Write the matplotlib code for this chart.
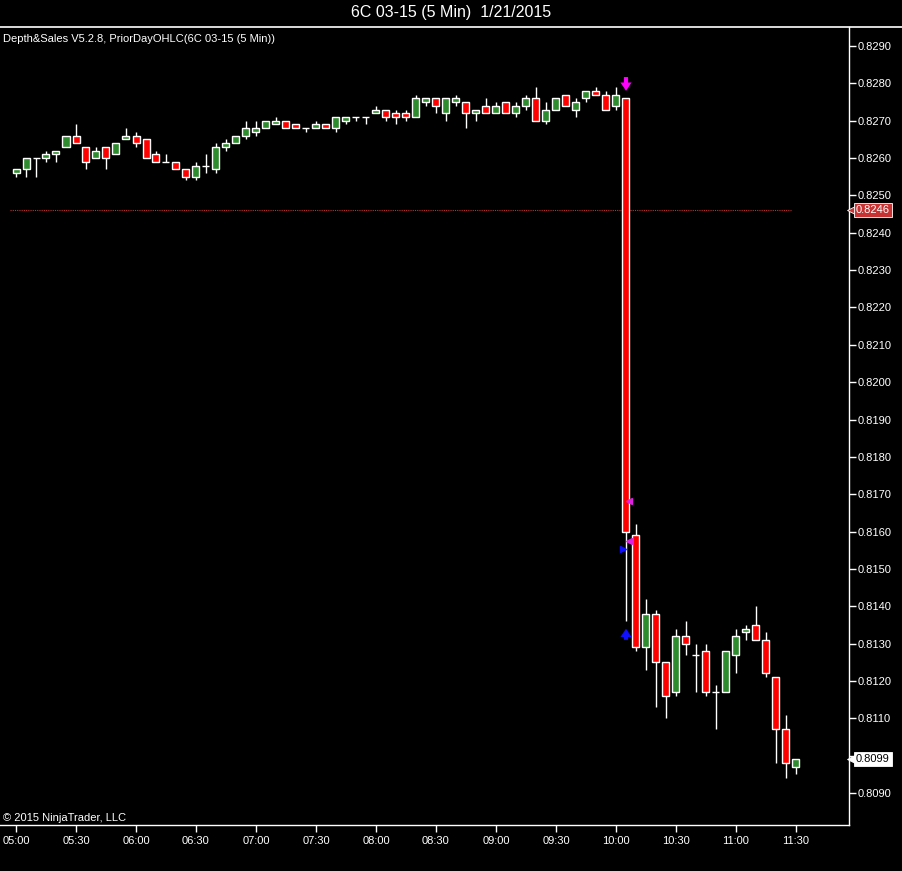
import numpy as np
import matplotlib
matplotlib.use("Agg")
import matplotlib.pyplot as plt
from matplotlib.lines import Line2D
import matplotlib.transforms as mtransforms

plt.rcParams['font.family'] = ['Liberation Sans', 'DejaVu Sans']

# 5 minute bars, 6C 03-15, 05:00 .. 11:30
opens = [0.8256, 0.8257, 0.8260, 0.8260, 0.8261, 0.8263, 0.8266, 0.8263, 0.8260, 0.8263,
         0.8261, 0.8265, 0.8266, 0.8265, 0.8261, 0.8259, 0.8259, 0.8257, 0.8255, 0.8258,
         0.8257, 0.8263, 0.8264, 0.8266, 0.8267, 0.8268, 0.8269, 0.8270, 0.8269, 0.8268,
         0.8268, 0.8269, 0.8268, 0.8270, 0.8271, 0.8271, 0.8272, 0.8273, 0.8272, 0.8272,
         0.8271, 0.8275, 0.8276, 0.8272, 0.8275, 0.8275, 0.8272, 0.8274, 0.8272, 0.8275,
         0.8272, 0.8274, 0.8276, 0.8270, 0.8273, 0.8277, 0.8273, 0.8276, 0.8278, 0.8277,
         0.8274, 0.8276, 0.8159, 0.8129, 0.8138, 0.8125, 0.8117, 0.8132, 0.8127, 0.8128,
         0.8117, 0.8117, 0.8127, 0.8133, 0.8135, 0.8131, 0.8121, 0.8107, 0.8097]
highs = [0.8257, 0.8260, 0.8260, 0.8262, 0.8262, 0.8266, 0.8269, 0.8263, 0.8263, 0.8263,
         0.8264, 0.8268, 0.8267, 0.8265, 0.8262, 0.8261, 0.8259, 0.8257, 0.8259, 0.8261,
         0.8264, 0.8265, 0.8266, 0.8270, 0.8270, 0.8270, 0.8271, 0.8270, 0.8269, 0.8268,
         0.8270, 0.8269, 0.8271, 0.8271, 0.8271, 0.8271, 0.8274, 0.8273, 0.8273, 0.8273,
         0.8277, 0.8276, 0.8276, 0.8276, 0.8277, 0.8275, 0.8273, 0.8276, 0.8275, 0.8275,
         0.8275, 0.8277, 0.8279, 0.8275, 0.8276, 0.8277, 0.8276, 0.8278, 0.8279, 0.8278,
         0.8279, 0.8276, 0.8162, 0.8142, 0.8139, 0.8125, 0.8134, 0.8136, 0.8130, 0.8130,
         0.8119, 0.8128, 0.8134, 0.8135, 0.8140, 0.8133, 0.8121, 0.8111, 0.8099]
lows = [0.8255, 0.8255, 0.8255, 0.8259, 0.8259, 0.8263, 0.8264, 0.8257, 0.8260, 0.8257,
        0.8261, 0.8265, 0.8263, 0.8260, 0.8259, 0.8259, 0.8257, 0.8254, 0.8254, 0.8256,
        0.8256, 0.8262, 0.8264, 0.8265, 0.8266, 0.8268, 0.8269, 0.8268, 0.8268, 0.8267,
        0.8268, 0.8268, 0.8267, 0.8269, 0.8270, 0.8269, 0.8272, 0.8270, 0.8269, 0.8270,
        0.8271, 0.8274, 0.8272, 0.8270, 0.8274, 0.8268, 0.8270, 0.8272, 0.8272, 0.8272,
        0.8271, 0.8273, 0.8270, 0.8269, 0.8273, 0.8274, 0.8271, 0.8275, 0.8277, 0.8273,
        0.8273, 0.8136, 0.8128, 0.8123, 0.8113, 0.8110, 0.8116, 0.8127, 0.8117, 0.8116,
        0.8107, 0.8117, 0.8122, 0.8131, 0.8131, 0.8121, 0.8098, 0.8094, 0.8095]
closes = [0.8257, 0.8260, 0.8260, 0.8261, 0.8262, 0.8266, 0.8264, 0.8259, 0.8262, 0.8260,
          0.8264, 0.8266, 0.8264, 0.8260, 0.8259, 0.8259, 0.8257, 0.8255, 0.8258, 0.8258,
          0.8263, 0.8264, 0.8266, 0.8268, 0.8268, 0.8270, 0.8270, 0.8268, 0.8268, 0.8268,
          0.8269, 0.8268, 0.8271, 0.8271, 0.8271, 0.8271, 0.8273, 0.8271, 0.8271, 0.8271,
          0.8276, 0.8276, 0.8274, 0.8276, 0.8276, 0.8272, 0.8273, 0.8272, 0.8274, 0.8272,
          0.8274, 0.8276, 0.8270, 0.8273, 0.8276, 0.8274, 0.8275, 0.8278, 0.8277, 0.8273,
          0.8277, 0.8160, 0.8129, 0.8138, 0.8125, 0.8116, 0.8132, 0.8130, 0.8127, 0.8117,
          0.8117, 0.8128, 0.8132, 0.8134, 0.8131, 0.8122, 0.8107, 0.8098, 0.8099]

time_labels = ['05:00', '05:30', '06:00', '06:30', '07:00', '07:30', '08:00',
               '08:30', '09:00', '09:30', '10:00', '10:30', '11:00', '11:30']
price_ticks = [0.8090, 0.8100, 0.8110, 0.8120, 0.8130, 0.8140, 0.8150, 0.8160,
               0.8170, 0.8180, 0.8190, 0.8200, 0.8210, 0.8220, 0.8230, 0.8240,
               0.8250, 0.8260, 0.8270, 0.8280, 0.8290]

prior_close = 0.8246
last_price = 0.8099

# Depth&Sales signals
sell_arrow_bar = 61
sell_arrow = (0.82817, 0.8278)   # tail, tip
buy_arrow_bar = 61
buy_arrow = (0.8131, 0.8134)
mag_tri_x = [61.3, 61.3]
mag_tri_y = [0.81683, 0.81575]
blue_tri_x = [60.7]
blue_tri_y = [0.81553]

GREEN = '#2e8b2e'
RED = '#ff0000'

fig = plt.figure(figsize=(9.03, 8.71), dpi=100, facecolor='black')
ax = fig.add_axes([0, 1 - 825 / 871, 849 / 903, (825 - 27) / 871])
ax.set_facecolor('black')

x = np.arange(len(opens))
o = np.array(opens)
c = np.array(closes)
colors = [GREEN if cc > oo else RED for oo, cc in zip(o, c)]

ax.vlines(x, lows, highs, color='white', lw=1, zorder=2)
ax.bar(x, np.abs(c - o), bottom=np.minimum(o, c), width=0.7,
       color=colors, edgecolor='white', linewidth=1, zorder=3)

# prior day close line
ax.hlines(prior_close, -0.6, 77.5, colors='#c03030', linestyles=(0, (1, 1)), lw=0.8, zorder=1)

# signals
arrow_style = 'simple,head_width=0.8,head_length=0.6,tail_width=0.3'
for bar_i, (tail, tip), col in [(sell_arrow_bar, sell_arrow, '#ff00ff'),
                                (buy_arrow_bar, buy_arrow, '#1010ff')]:
    ax.annotate('', xy=(bar_i, tip), xytext=(bar_i, tail),
                arrowprops=dict(arrowstyle=arrow_style, color=col, lw=0,
                                shrinkA=0, shrinkB=0, mutation_scale=10), zorder=5)
ax.plot(mag_tri_x, mag_tri_y, ls='none', marker='<', ms=5, color='#e020e0', zorder=5)
ax.plot(blue_tri_x, blue_tri_y, ls='none', marker='>', ms=5, color='#1010ff', zorder=5)

ax.set_xlim(-1.6, 83.3)
ax.set_ylim(0.808143, 0.829509)

ax.set_xticks(np.arange(0, len(opens), 6))
ax.set_xticklabels(time_labels)
ax.set_yticks(price_ticks)
# the last price box covers the 0.8100 label
ax.set_yticklabels(['' if abs(p - last_price) < 0.0003 else f'{p:.4f}' for p in price_ticks])
ax.yaxis.tick_right()
ax.tick_params(colors='white', labelsize=8, length=5, width=1, direction='out')
ax.tick_params(axis='x', pad=3)
ax.tick_params(axis='y', pad=1)

for side in ['left', 'top']:
    ax.spines[side].set_visible(False)
for side in ['right', 'bottom']:
    ax.spines[side].set_color('white')
    ax.spines[side].set_linewidth(1)

# price markers on the axis
blend = mtransforms.blended_transform_factory(ax.transAxes, ax.transData)
for price, fc, tc in [(prior_close, '#c83232', 'white'), (last_price, 'white', 'black')]:
    ax.plot([1.005], [price], marker='<', ms=8, color=fc, mec='white', mew=0.6,
            transform=blend, clip_on=False, zorder=6)
    ax.annotate(f'{price:.4f}', xy=(1, price), xycoords=blend, xytext=(5, 0),
                textcoords='offset points', va='center', ha='left', fontsize=8, color=tc,
                bbox=dict(boxstyle='square,pad=0.18', fc=fc, ec='white', lw=0.6),
                annotation_clip=False, zorder=7)

# header
fig.add_artist(Line2D([0, 1], [1 - 27 / 871, 1 - 27 / 871], color='white', lw=1.2))
fig.text(0.5, 1 - 13 / 871, '6C 03-15 (5 Min)  1/21/2015', color='white',
         fontsize=11.5, ha='center', va='center')
fig.text(3 / 903, 1 - 39 / 871, 'Depth&Sales V5.2.8, PriorDayOHLC(6C 03-15 (5 Min))',
         color='white', fontsize=8, ha='left', va='center')
fig.text(3 / 903, 1 - 818 / 871, '\u00a9 2015 NinjaTrader, LLC', color='white',
         fontsize=8, ha='left', va='center')

fig.savefig('out.png', dpi=100, facecolor='black')
